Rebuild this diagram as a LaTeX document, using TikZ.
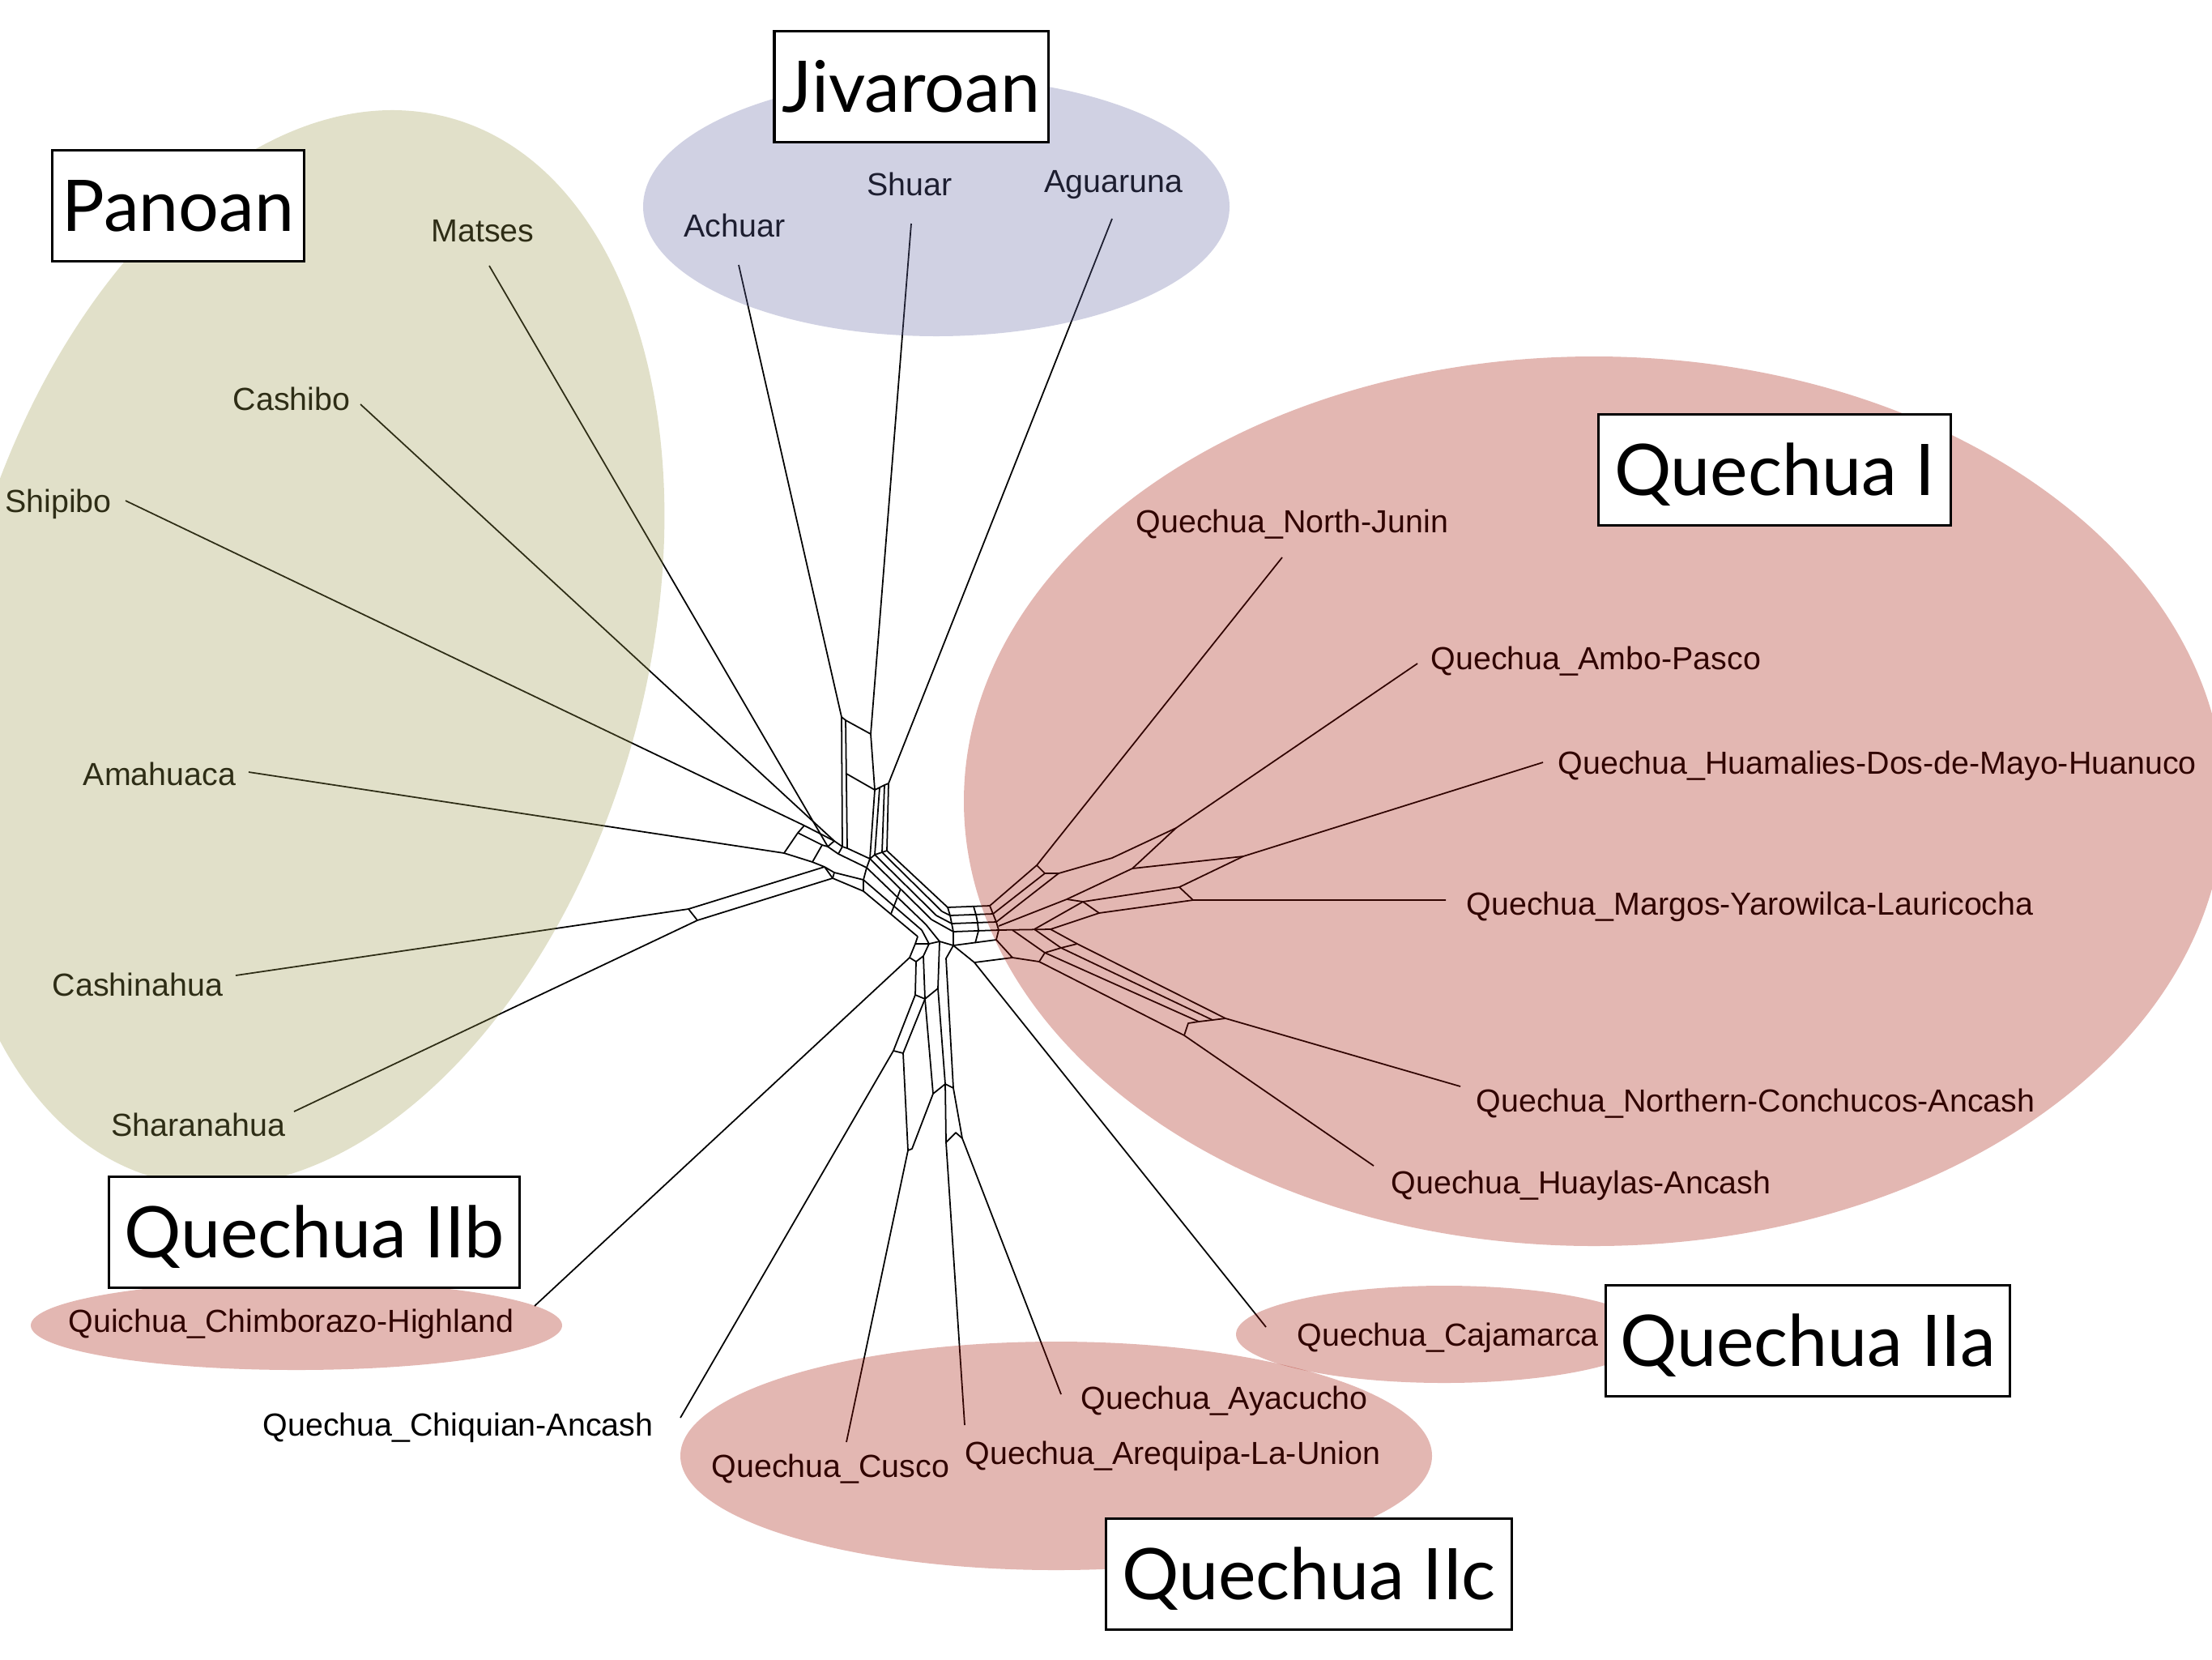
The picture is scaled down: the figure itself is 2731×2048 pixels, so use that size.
\documentclass[tikz,border=0pt]{standalone}
\usepackage{fontspec}
\setmainfont{Liberation Sans}
\newfontfamily\groupfont{Lato}
\definecolor{panoanfill}{RGB}{155,152,75}
\definecolor{jivaroanfill}{RGB}{98,102,162}
\definecolor{quechuafill}{RGB}{162,15,0}
\tikzset{
  net/.style={line width=0.5pt, line join=round},
  taxon/.style={font=\fontsize{11.2}{13}\selectfont, inner sep=0pt},
  family/.style={draw, line width=0.9pt, fill=white, inner sep=0pt,
    font=\groupfont\fontsize{25}{30}\selectfont,
    minimum height=1.37cm, text height=0.63cm, text depth=0pt},
  blob/.style={fill opacity=0.3},
}
\begin{document}
\begin{tikzpicture}[x=0.01cm, y=-0.01cm]
  \useasboundingbox (0,0) rectangle (2731,2048);
  \clip (0,0) rectangle (2731,2048);

  % Leaf labels
  \node[taxon, anchor=base] (matses) at (596,298) {Matses};
  \node[taxon, anchor=base] (cashibo) at (360,506) {Cashibo};
  \node[taxon, anchor=base] (shipibo) at (72,632) {Shipibo};
  \node[taxon, anchor=base] (amahuaca) at (197,969) {Amahuaca};
  \node[taxon, anchor=base] (cashinahua) at (170,1229) {Cashinahua};
  \node[taxon, anchor=base] (sharanahua) at (245,1402) {Sharanahua};
  \node[taxon, anchor=base] (achuar) at (907,292) {Achuar};
  \node[taxon, anchor=base] (shuar) at (1123,241) {Shuar};
  \node[taxon, anchor=base] (aguaruna) at (1375,237) {Aguaruna};
  \node[taxon, anchor=base west] (northjunin) at (1402,657) {Quechua\_North-Junin};
  \node[taxon, anchor=base west] (ambopasco) at (1766,826) {Quechua\_Ambo-Pasco};
  \node[taxon, anchor=base west] (huamalies) at (1923,955) {Quechua\_Huamalies-Dos-de-Mayo-Huanuco};
  \node[taxon, anchor=base west] (margos) at (1810,1129) {Quechua\_Margos-Yarowilca-Lauricocha};
  \node[taxon, anchor=base west] (conchucos) at (1822,1372) {Quechua\_Northern-Conchucos-Ancash};
  \node[taxon, anchor=base west] (huaylas) at (1717,1473) {Quechua\_Huaylas-Ancash};
  \node[taxon, anchor=base west] (cajamarca) at (1601,1661) {Quechua\_Cajamarca};
  \node[taxon, anchor=base west] (ayacucho) at (1334,1739) {Quechua\_Ayacucho};
  \node[taxon, anchor=base west] (arequipa) at (1191,1807) {Quechua\_Arequipa-La-Union};
  \node[taxon, anchor=base west] (cusco) at (878,1823) {Quechua\_Cusco};
  \node[taxon, anchor=base west] (chiquian) at (324,1772) {Quechua\_Chiquian-Ancash};
  \node[taxon, anchor=base west] (chimborazo) at (84,1644) {Quichua\_Chimborazo-Highland};

  % Leaf ends
  \coordinate (eMat) at (604,328);
  \coordinate (eCsb) at (445,499);
  \coordinate (eShp) at (155,618);
  \coordinate (eAma) at (307,953);
  \coordinate (eCsn) at (291,1204);
  \coordinate (eShr) at (363,1372);
  \coordinate (eAch) at (912,327);
  \coordinate (eShu) at (1125,276);
  \coordinate (eAgu) at (1373,270);
  \coordinate (eNJ) at (1583,688);
  \coordinate (eAP) at (1750,819);
  \coordinate (eHM) at (1905,941);
  \coordinate (eMG) at (1785,1111);
  \coordinate (eNC) at (1803,1341);
  \coordinate (eHY) at (1696,1439);
  \coordinate (eCJ) at (1563,1638);
  \coordinate (eAY) at (1310,1721);
  \coordinate (eAR) at (1191,1759);
  \coordinate (eCU) at (1045,1780);
  \coordinate (eCQ) at (840,1750);
  \coordinate (eCB) at (660,1612);

  % Junctions
  \coordinate (jAch) at (1039,885);
  \coordinate (jShu) at (1075,906);
  \coordinate (jAgu) at (1097,967);
  \coordinate (jMat) at (1022,1045);
  \coordinate (jCsb) at (1030,1038);
  \coordinate (jShp) at (993,1019);
  \coordinate (jAma) at (968,1053);
  \coordinate (jCsn) at (850,1122);
  \coordinate (jCsn2) at (1018,1070);
  \coordinate (jShr) at (861,1136);
  \coordinate (jShr2) at (1028,1084);
  \coordinate (jNJ) at (1280,1068);
  \coordinate (jAP) at (1452,1022);
  \coordinate (jHM) at (1535,1057);
  \coordinate (jMG) at (1473,1111);
  \coordinate (jNC) at (1513,1257);
  \coordinate (jHY) at (1462,1278);
  \coordinate (jCJ) at (1203,1188);
  \coordinate (jCB) at (1123,1182);
  \coordinate (jCQ) at (1103,1297);
  \coordinate (jAR) at (1168,1410);
  \coordinate (jAY) at (1188,1405);

  % Jivaroan stem
  \draw[net] (eAch) -- (jAch) -- (1040,1045);
  \draw[net] (jAch) -- (1044,889) -- (1046,1047);
  \draw[net] (1044,889) -- (jShu);
  \draw[net] (eShu) -- (jShu) -- (1080,975) -- (1074,1060);
  \draw[net] (1045,955) -- (1080,975);
  \draw[net] (eAgu) -- (jAgu) -- (1095,1050);
  \draw[net] (1080,975) -- (1086,972) -- (1092,969) -- (jAgu);
  \draw[net] (1086,972) -- (1080,1055);
  \draw[net] (1092,969) -- (1089,1052);

  % Panoan fan
  \draw[net] (eMat) -- (jMat);
  \draw[net] (eCsb) -- (jCsb);
  \draw[net] (eShp) -- (jShp);
  \draw[net] (eAma) -- (jAma);
  \draw[net] (eCsn) -- (jCsn) -- (jCsn2);
  \draw[net] (eShr) -- (jShr) -- (jShr2);
  \draw[net] (jCsn) -- (jShr);
  \draw[net] (jCsn2) -- (jShr2);
  \draw[net] (jAma) -- (985,1028) -- (jShp);
  \draw[net] (985,1028) -- (1015,1043) -- (jMat) -- (jCsb) -- (jShp);
  \draw[net] (jAma) -- (1003,1064) -- (1015,1043);
  \draw[net] (1003,1064) -- (jCsn2);
  \draw[net] (jCsb) -- (1040,1045) -- (1046,1047) -- (1074,1060);
  \draw[net] (jMat) -- (1035,1054) -- (1070,1071);
  \draw[net] (1040,1045) -- (1035,1054);
  \draw[net] (jCsn2) -- (1030,1077) -- (1066,1086);
  \draw[net] (1030,1077) -- (jShr2) -- (1066,1100);

  % Trunk
  \draw[net] (1095,1050) -- (1170,1120);
  \draw[net] (1089,1052) -- (1163,1125);
  \draw[net] (1080,1055) -- (1156,1130);
  \draw[net] (1074,1060) -- (1150,1135);
  \draw[net] (1070,1071) -- (1143,1141);
  \draw[net] (1066,1086) -- (1138,1148);
  \draw[net] (1066,1100) -- (1133,1156);
  \draw[net] (1074,1060) -- (1080,1055) -- (1089,1052) -- (1095,1050);
  \draw[net] (1074,1060) -- (1070,1071) -- (1066,1086) -- (1066,1100);
  \draw[net] (1100,1128) -- (1112,1097);

  % Hub
  \draw[net] (1170,1120) -- (1222,1118);
  \draw[net] (1173,1130) -- (1226,1128);
  \draw[net] (1175,1140) -- (1230,1138);
  \draw[net] (1177,1150) -- (1233,1148);
  \draw[net] (1177,1167) -- (1230,1160);
  \draw[net] (1170,1120) -- (1173,1130) -- (1175,1140) -- (1177,1150) -- (1177,1167);
  \draw[net] (1163,1125) -- (1173,1130);
  \draw[net] (1156,1130) -- (1175,1140);
  \draw[net] (1150,1135) -- (1177,1150);
  \draw[net] (1143,1141) -- (1160,1162) -- (1177,1167);
  \draw[net] (1138,1148) -- (1147,1165);
  \draw[net] (1133,1156) -- (1130,1165);
  \draw[net] (1130,1165) -- (1147,1165) -- (1160,1162);
  \draw[net] (1202,1119) -- (1205,1129) -- (1207,1139) -- (1208,1149) -- (1204,1164);
  \draw[net] (1222,1118) -- (1226,1128) -- (1230,1138) -- (1233,1148) -- (1230,1160);

  % Quechua I, upper fan
  \draw[net] (eNJ) -- (jNJ) -- (1222,1118);
  \draw[net] (jNJ) -- (1290,1078) -- (1307,1078);
  \draw[net] (1290,1078) -- (1226,1128);
  \draw[net] (1307,1078) -- (1230,1138);
  \draw[net] (eAP) -- (jAP) -- (1373,1059) -- (1307,1078);
  \draw[net] (jAP) -- (1398,1072) -- (1317,1110);
  \draw[net] (eHM) -- (jHM) -- (1398,1072);
  \draw[net] (jHM) -- (1456,1095) -- (1337,1113);
  \draw[net] (eMG) -- (jMG) -- (1357,1127);
  \draw[net] (1456,1095) -- (jMG);
  \draw[net] (1317,1110) -- (1337,1113) -- (1357,1127);
  \draw[net] (1317,1110) -- (1233,1143);
  \draw[net] (1337,1113) -- (1277,1147);
  \draw[net] (1357,1127) -- (1297,1147);

  % Quechua I, lower band
  \draw[net] (1233,1148) -- (1297,1147);
  \draw[net] (1297,1147) -- (1330,1165) -- (jNC);
  \draw[net] (1277,1147) -- (1310,1170) -- (1497,1259);
  \draw[net] (1250,1148) -- (1290,1176) -- (1480,1261);
  \draw[net] (1250,1182) -- (1283,1187) -- (jHY);
  \draw[net] (1283,1187) -- (1290,1176) -- (1310,1170) -- (1330,1165);
  \draw[net] (jHY) -- (1467,1263) -- (1480,1261) -- (1497,1259) -- (jNC);
  \draw[net] (eNC) -- (jNC);
  \draw[net] (eHY) -- (jHY);

  % Quechua II
  \draw[net] (1177,1167) -- (jCJ) -- (eCJ);
  \draw[net] (jCJ) -- (1250,1182) -- (1230,1160);
  \draw[net] (eCB) -- (jCB) -- (1130,1165);
  \draw[net] (jCB) -- (1131,1187) -- (1130,1228) -- (jCQ);
  \draw[net] (1131,1187) -- (1140,1180) -- (1147,1165);
  \draw[net] (eCQ) -- (jCQ) -- (1115,1300) -- (1142,1233) -- (1140,1180);
  \draw[net] (1130,1228) -- (1142,1233) -- (1158,1220);
  \draw[net] (1115,1300) -- (1121,1420) -- (eCU);
  \draw[net] (1121,1420) -- (1126,1418) -- (1152,1350);
  \draw[net] (1142,1233) -- (1152,1350) -- (1167,1338) -- (1158,1220) -- (1160,1162);
  \draw[net] (1167,1338) -- (1177,1343) -- (1168,1183) -- (1177,1167);
  \draw[net] (eAR) -- (jAR) -- (1167,1338);
  \draw[net] (eAY) -- (jAY) -- (1177,1343);
  \draw[net] (jAR) -- (1180,1398) -- (jAY);

  % Groups
  \fill[panoanfill, blob, rotate around={74.5:(375,800)}] (375,800) ellipse [x radius=679, y radius=422];
  \fill[jivaroanfill, blob] (1156,255) ellipse [x radius=362, y radius=160];
  \fill[quechuafill, blob] (1968,989) ellipse [x radius=778, y radius=549];
  \fill[quechuafill, blob] (366,1636) ellipse [x radius=328, y radius=55];
  \fill[quechuafill, blob] (1783,1647) ellipse [x radius=257, y radius=60];
  \fill[quechuafill, blob] (1304,1797) ellipse [x radius=464, y radius=141];

  % Group names
  \node[family, minimum width=3.38cm] (jivaroan) at (1125,107) {Jivaroan};
  \node[family, minimum width=3.10cm] (panoan) at (220,254) {Panoan};
  \node[family, minimum width=4.34cm] (quechuaI) at (2191,580) {Quechua I};
  \node[family, minimum width=5.06cm] (quechuaIIb) at (388,1521) {Quechua IIb};
  \node[family, minimum width=4.98cm] (quechuaIIa) at (2232,1655) {Quechua IIa};
  \node[family, minimum width=5.00cm] (quechuaIIc) at (1616,1943) {Quechua IIc};
\end{tikzpicture}
\end{document}
